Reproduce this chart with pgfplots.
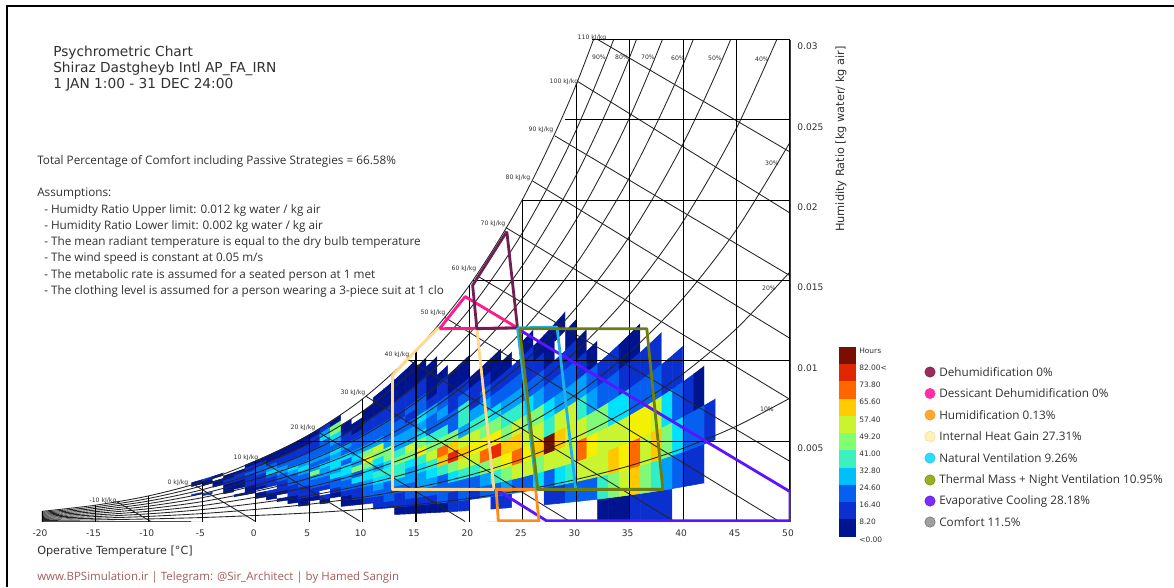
\documentclass[border=0pt]{standalone}
\usepackage{pgfplots}
\usepackage{pgfplotstable}
\usepackage{fontspec}
\pgfplotsset{compat=1.18}
\setmainfont{Open Sans}
\newfontfamily\djv{DejaVu Sans}

% hours per cell: one line per 1 degree column from T=-6 to T=42, 21 humidity bins per column (100/21 % RH each)
\pgfplotstableread[row sep=crcr]{h\\
0\\0\\0\\0\\0\\0\\0\\0\\0\\0\\0\\0\\0\\0\\11\\0\\0\\0\\0\\4\\4\\
0\\0\\0\\0\\0\\0\\0\\0\\0\\0\\0\\0\\0\\11\\0\\0\\0\\0\\4\\4\\11\\
0\\0\\0\\0\\0\\0\\0\\0\\0\\0\\0\\0\\0\\0\\0\\0\\4\\4\\4\\0\\4\\
0\\0\\0\\0\\0\\0\\0\\0\\0\\0\\0\\0\\4\\4\\4\\4\\11\\11\\4\\4\\0\\
0\\0\\0\\0\\0\\0\\0\\0\\0\\0\\4\\0\\0\\4\\4\\4\\11\\11\\11\\4\\0\\
0\\0\\0\\0\\0\\0\\0\\0\\0\\0\\4\\4\\4\\11\\11\\11\\11\\18\\11\\11\\4\\
0\\0\\0\\0\\0\\0\\0\\0\\4\\4\\0\\4\\11\\11\\11\\11\\18\\18\\18\\11\\4\\
0\\0\\0\\0\\0\\0\\0\\4\\4\\11\\0\\11\\11\\11\\18\\32\\25\\18\\11\\4\\4\\
0\\0\\0\\0\\0\\0\\4\\0\\4\\11\\11\\11\\18\\18\\25\\25\\18\\11\\11\\4\\4\\
0\\0\\0\\0\\0\\4\\4\\11\\11\\11\\18\\18\\18\\25\\32\\18\\18\\11\\11\\4\\4\\
0\\0\\0\\0\\4\\4\\11\\11\\11\\18\\18\\18\\25\\32\\25\\18\\18\\11\\11\\4\\4\\
0\\0\\0\\0\\0\\4\\11\\11\\18\\18\\25\\46\\25\\18\\25\\18\\18\\11\\11\\11\\4\\
0\\0\\0\\0\\4\\11\\0\\11\\18\\18\\25\\25\\32\\18\\25\\18\\18\\18\\32\\25\\11\\
0\\0\\0\\0\\0\\4\\11\\18\\18\\32\\25\\32\\32\\25\\32\\18\\25\\32\\46\\46\\4\\
0\\0\\0\\4\\4\\11\\18\\18\\25\\32\\32\\18\\32\\18\\25\\11\\11\\4\\4\\0\\0\\
0\\0\\0\\4\\11\\11\\18\\32\\18\\46\\25\\32\\25\\18\\18\\11\\4\\4\\0\\0\\0\\
0\\0\\0\\11\\18\\18\\25\\32\\32\\46\\60\\46\\25\\18\\18\\11\\11\\4\\4\\0\\0\\
0\\0\\11\\11\\18\\25\\32\\39\\25\\32\\46\\53\\25\\18\\18\\11\\11\\4\\4\\4\\0\\
0\\0\\11\\18\\18\\18\\32\\39\\32\\46\\46\\25\\18\\18\\18\\11\\11\\4\\4\\4\\0\\
0\\4\\11\\11\\18\\25\\39\\39\\46\\39\\25\\25\\18\\18\\11\\11\\11\\4\\4\\4\\0\\
0\\4\\11\\18\\18\\25\\25\\32\\46\\53\\25\\25\\18\\11\\18\\11\\11\\4\\4\\4\\0\\
0\\4\\11\\18\\25\\25\\32\\39\\60\\46\\32\\25\\32\\18\\18\\11\\11\\4\\4\\0\\0\\
0\\4\\11\\18\\25\\32\\39\\53\\46\\39\\18\\18\\25\\11\\4\\4\\4\\4\\0\\0\\0\\
0\\4\\18\\18\\18\\39\\67\\74\\46\\39\\18\\25\\18\\11\\11\\4\\0\\0\\0\\0\\0\\
0\\11\\11\\18\\32\\46\\81\\67\\46\\18\\18\\11\\11\\4\\4\\0\\0\\0\\0\\0\\0\\
0\\11\\18\\18\\39\\53\\67\\53\\25\\39\\39\\18\\11\\4\\4\\0\\0\\0\\0\\0\\0\\
0\\0\\11\\18\\39\\53\\60\\53\\39\\25\\11\\11\\4\\0\\0\\0\\0\\0\\0\\0\\0\\
0\\0\\18\\25\\46\\74\\60\\46\\39\\25\\18\\11\\4\\0\\0\\0\\0\\0\\0\\0\\0\\
0\\11\\18\\39\\53\\81\\60\\46\\32\\18\\11\\4\\4\\0\\0\\0\\0\\0\\0\\0\\0\\
0\\11\\25\\46\\60\\67\\46\\39\\25\\18\\11\\4\\0\\0\\0\\0\\0\\0\\0\\0\\0\\
0\\0\\18\\53\\74\\67\\53\\39\\25\\18\\11\\0\\0\\0\\0\\0\\0\\0\\0\\0\\0\\
0\\0\\18\\53\\60\\53\\46\\32\\18\\11\\11\\4\\0\\0\\0\\0\\0\\0\\0\\0\\0\\
0\\0\\32\\46\\67\\53\\46\\25\\18\\11\\4\\0\\0\\0\\0\\0\\0\\0\\0\\0\\0\\
0\\11\\18\\53\\88\\39\\32\\18\\11\\4\\4\\0\\0\\0\\0\\0\\0\\0\\0\\0\\0\\
0\\11\\32\\53\\67\\53\\25\\18\\11\\0\\4\\0\\0\\0\\0\\0\\0\\0\\0\\0\\0\\
0\\18\\39\\53\\53\\53\\25\\18\\11\\4\\0\\0\\0\\0\\0\\0\\0\\0\\0\\0\\0\\
0\\18\\53\\74\\53\\39\\25\\11\\4\\0\\0\\0\\0\\0\\0\\0\\0\\0\\0\\0\\0\\
0\\18\\53\\60\\46\\25\\18\\4\\0\\0\\0\\0\\0\\0\\0\\0\\0\\0\\0\\0\\0\\
4\\39\\53\\53\\46\\18\\11\\0\\0\\0\\0\\0\\0\\0\\0\\0\\0\\0\\0\\0\\0\\
4\\46\\67\\53\\32\\18\\11\\0\\0\\0\\0\\0\\0\\0\\0\\0\\0\\0\\0\\0\\0\\
4\\53\\60\\53\\32\\11\\4\\0\\0\\0\\0\\0\\0\\0\\0\\0\\0\\0\\0\\0\\0\\
11\\67\\74\\60\\18\\11\\4\\0\\0\\0\\0\\0\\0\\0\\0\\0\\0\\0\\0\\0\\0\\
11\\46\\53\\60\\18\\11\\0\\0\\0\\0\\0\\0\\0\\0\\0\\0\\0\\0\\0\\0\\0\\
11\\39\\67\\53\\18\\11\\0\\0\\0\\0\\0\\0\\0\\0\\0\\0\\0\\0\\0\\0\\0\\
11\\25\\46\\32\\11\\0\\0\\0\\0\\0\\0\\0\\0\\0\\0\\0\\0\\0\\0\\0\\0\\
0\\18\\32\\18\\11\\0\\0\\0\\0\\0\\0\\0\\0\\0\\0\\0\\0\\0\\0\\0\\0\\
0\\11\\18\\11\\0\\0\\0\\0\\0\\0\\0\\0\\0\\0\\0\\0\\0\\0\\0\\0\\0\\
0\\11\\18\\4\\0\\0\\0\\0\\0\\0\\0\\0\\0\\0\\0\\0\\0\\0\\0\\0\\0\\
0\\0\\11\\0\\0\\0\\0\\0\\0\\0\\0\\0\\0\\0\\0\\0\\0\\0\\0\\0\\0\\
}\heat

% relative humidity curves, humidity ratio in g/kg
\pgfplotstableread{
T r10 r20 r30 r40 r50 r60 r70 r80 r90 r100
-20 .063 .127 .190 .254 .317 .380 .444 .507 .571 .634
-15 .102 .203 .305 .406 .508 .610 .711 .813 .914 1.016
-10 .160 .320 .479 .639 .799 .959 1.119 1.278 1.438 1.598
-5 .248 .495 .743 .990 1.238 1.485 1.733 1.980 2.228 2.475
0 .376 .753 1.13 1.51 1.88 2.26 2.64 3.02 3.39 3.77
5 .536 1.074 1.61 2.15 2.69 3.23 3.77 4.31 4.86 5.40
10 .755 1.51 2.27 3.03 3.79 4.56 5.32 6.09 6.86 7.63
15 1.05 2.10 3.16 4.22 5.28 6.35 7.42 8.49 9.57 10.65
20 1.44 2.88 4.34 5.80 7.26 8.74 10.22 11.70 13.20 14.70
25 1.95 3.91 5.89 7.88 9.88 11.90 13.93 15.97 18.02 20.09
30 2.62 5.26 7.92 10.61 13.31 16.04 18.80 21.57 24.38 27.21
35 3.47 6.99 10.54 14.14 17.77 21.44 25.16 28.91 32.72 36.58
40 4.56 9.20 13.90 18.68 23.52 28.44 33.44 38.51 43.66 48.89
45 5.94 12.01 18.18 24.49 30.91 37.47 44.15 50.98 57.95 65.07
50 7.68 15.54 23.60 31.88 40.37 49.08 58.03 67.22 76.68 86.41
}\rhcurves

\definecolor{grad0}{HTML}{001490}\definecolor{grad1}{HTML}{0A30D0}\definecolor{grad2}{HTML}{0560F0}
\definecolor{grad3}{HTML}{00BFFF}\definecolor{grad4}{HTML}{3DF0C0}\definecolor{grad5}{HTML}{80FF70}
\definecolor{grad6}{HTML}{C8F530}\definecolor{grad7}{HTML}{FFCC00}\definecolor{grad8}{HTML}{FF6600}
\definecolor{grad9}{HTML}{E02800}\definecolor{grad10}{HTML}{7A0F00}
\definecolor{txt}{HTML}{303030}

\pgfplotsset{
  colormap={hoursmap}{rgb255=(255,255,255) rgb255=(0,20,144) rgb255=(10,48,208) rgb255=(5,96,240)
    rgb255=(0,160,255) rgb255=(0,224,255) rgb255=(48,238,200) rgb255=(128,248,120) rgb255=(200,245,48)
    rgb255=(244,240,0) rgb255=(255,200,0) rgb255=(255,106,0) rgb255=(232,40,0) rgb255=(122,15,0)},
  zone/.style={line width=2.1pt,line join=round},
  thin line/.style={black!85,line width=.65pt},
}

\begin{document}
\begin{tikzpicture}
\begin{axis}[
  at={(31.5pt,49.125pt)},anchor=south west,scale only axis,
  width=561pt,height=361.5pt,
  xmin=-20,xmax=50,ymin=0,ymax=0.03,
  axis x line=bottom,axis y line=right,
  axis line style={-,black!70,line width=.6pt},
  xtick={-20,-15,...,50},
  ytick={0.005,0.01,0.015,0.02,0.025,0.03},
  yticklabels={0.005,0.01,0.015,0.02,0.025,0.03},
  scaled y ticks=false,
  major tick length=0pt,
  tick label style={font=\djv\fontsize{6.8}{8}\selectfont,text=txt},
  /pgf/number format/assume math mode=true,
  xticklabel style={yshift=-3pt,xshift=-1.5pt},
  yticklabel style={xshift=2pt,yshift=-5.2pt},
  xlabel={Operative Temperature [°C]},
  xlabel style={font=\djv\fontsize{8.4}{10}\selectfont,text=txt,inner sep=0pt,at={(axis description cs:-0.0067,0)},anchor=west,yshift=-22.3pt},
  ylabel={Humidity Ratio [kg water/ kg air]},
  ylabel style={font=\djv\fontsize{8.5}{10}\selectfont,text=txt,at={(axis description cs:1.0682,0.7936)},anchor=center},
  colormap name=hoursmap,colormap access=piecewise constant,
  point meta min=-6.5,point meta max=91.5,
  declare function={ps(\t)=0.61094*exp(17.625*\t/(\t+243.04));
    wr(\t,\r)=0.622*\r*ps(\t)/(101.325-\r*ps(\t));},
  unbounded coords=jump,
  clip=true,
]
% heat cells
\addplot[matrix plot*,mesh/rows=21,mesh/cols=49,mesh/ordering=y varies,point meta=explicit]
  table[x index=0,y index=0,meta index=0,
    x expr={floor((\coordindex+0.5)/21)-5.5},
    y expr={wr(floor((\coordindex+0.5)/21)-5.5,(mod(\coordindex,21)+0.5)/21)}]{\heat};

% relative humidity curves
\pgfplotsinvokeforeach{10,20,30,40,50,60,70,80,90,100}{
  \addplot[thin line,smooth,tension=0.5] table[x=T,y expr=\thisrow{r#1}/1000]{\rhcurves};
}
% enthalpy lines
\addplot[thin line] coordinates {
  (-13,0.00123)(-9.8,0) (0,nan)
  (-5.8,0.0023)(0,0) (0,nan)
  (0.3,0.00387)(9.8,0) (0,nan)
  (5.65,0.00565)(19.6,0) (0,nan)
  (10.3,0.0078)(29.4,0) (0,nan)
  (14.2,0.0101)(39.2,0) (0,nan)
  (17.7,0.0127)(49,0) (0,nan)
  (20.7,0.0153)(50,0.00374) (0,nan)
  (23.4,0.0183)(50,0.0076) (0,nan)
  (25.9,0.0212)(50,0.0114) (0,nan)
  (28,0.024)(50,0.0153) (0,nan)
  (30.1,0.0274)(50,0.0192) (0,nan)
  (32,0.03)(50,0.023)
};
% dry bulb and humidity grid, cut at the saturation curve
\addplot[black,line width=.85pt] coordinates {
  (-20,0)(-20,0.00063) (0,nan)
  (-15,0)(-15,0.00102) (0,nan)
  (-10,0)(-10,0.0016) (0,nan)
  (-5,0)(-5,0.00248) (0,nan)
  (0,0)(0,0.00377) (0,nan)
  (5,0)(5,0.0054) (0,nan)
  (10,0)(10,0.00763) (0,nan)
  (15,0)(15,0.01065) (0,nan)
  (20,0)(20,0.0147) (0,nan)
  (25,0)(25,0.0201) (0,nan)
  (30,0)(30,0.0272) (0,nan)
  (35,0)(35,0.03) (0,nan)
  (40,0)(40,0.03) (0,nan)
  (45,0)(45,0.03) (0,nan)
  (50,0)(50,0.03)
};
\addplot[black,line width=.85pt] coordinates {
  (3.9,0.005)(50,0.005) (0,nan)
  (14.2,0.01)(50,0.01) (0,nan)
  (20.3,0.015)(50,0.015) (0,nan)
  (25,0.02)(50,0.02) (0,nan)
  (28.9,0.025)(50,0.025) (0,nan)
  (31.5,0.03)(50,0.03)
};
% comfort strategy zones
\addplot[zone,color={rgb,255:red,90;green,20;blue,255}] coordinates {(24.5,0.012)(50,0.00186)(50,0.00005)(27.2,0.00005)(22.5,0.002)};
\addplot[zone,color={rgb,255:red,255;green,140;blue,26}] coordinates {(22.5,0.002)(26.2,0.002)(26.5,0.00005)(22.7,0.00005)(22.5,0.002)};
\addplot[zone,color={rgb,255:red,255;green,217;blue,140}] coordinates {(22.3,0.002)(12.8,0.002)(12.8,0.0091)(15,0.01065)(17,0.012)(20.7,0.012)(22.3,0.002)};
\addplot[zone,color={rgb,255:red,255;green,26;blue,140}] coordinates {(17.2,0.012)(19.6,0.014)(24.5,0.01205)(17.2,0.012)};
\addplot[zone,color={rgb,255:red,111;green,32;blue,80}] coordinates {(23.5,0.01805)(20.3,0.0147)(20.7,0.012)(24.5,0.01205)(23.5,0.01805)};
\addplot[zone,color={rgb,255:red,32;green,176;blue,232}] coordinates {(24.5,0.01205)(28.2,0.0121)(29.95,0.002)(26.3,0.002)(24.5,0.01205)};
\addplot[zone,color={rgb,255:red,110;green,125;blue,16}] coordinates {(24.7,0.012)(36.6,0.012)(38.1,0.002)(26.4,0.002)(24.7,0.012)};
\end{axis}

% page sized axis in image pixels: texts, colour bar and legend
\begin{axis}[
  at={(0,0)},anchor=south west,scale only axis,
  width=880.5pt,height=440.25pt,
  xmin=0,xmax=1174,ymin=0,ymax=587,y dir=reverse,
  hide axis,clip=false,
  nodes={inner sep=0pt,text=txt},
]
% frame
\addplot[black,line width=1.5pt] coordinates {(7,587)(7,6)(1174,6)};
% colour bar
\pgfplotsinvokeforeach{0,...,10}{
  \pgfmathsetmacro\ytop{536.7-(#1+1)*17.25}
  \pgfmathsetmacro\ybot{536.7-#1*17.25}
  \edef\temp{\noexpand\addplot[fill=grad#1,draw=none] coordinates {(839,\ytop)(856,\ytop)(856,\ybot)(839,\ybot)} --cycle;}
  \temp
}
\node[anchor=west,font=\djv\fontsize{5.6}{7}\selectfont] at (axis cs:859,351) {Hours};
\node[anchor=west,font=\djv\fontsize{5.6}{7}\selectfont] at (axis cs:859,368) {82.00<};
\node[anchor=west,font=\djv\fontsize{5.6}{7}\selectfont] at (axis cs:859,385) {73.80};
\node[anchor=west,font=\djv\fontsize{5.6}{7}\selectfont] at (axis cs:859,402) {65.60};
\node[anchor=west,font=\djv\fontsize{5.6}{7}\selectfont] at (axis cs:859,419.5) {57.40};
\node[anchor=west,font=\djv\fontsize{5.6}{7}\selectfont] at (axis cs:859,436.5) {49.20};
\node[anchor=west,font=\djv\fontsize{5.6}{7}\selectfont] at (axis cs:859,453.5) {41.00};
\node[anchor=west,font=\djv\fontsize{5.6}{7}\selectfont] at (axis cs:859,471) {32.80};
\node[anchor=west,font=\djv\fontsize{5.6}{7}\selectfont] at (axis cs:859,488) {24.60};
\node[anchor=west,font=\djv\fontsize{5.6}{7}\selectfont] at (axis cs:859,505) {16.40};
\node[anchor=west,font=\djv\fontsize{5.6}{7}\selectfont] at (axis cs:859,522) {8.20};
\node[anchor=west,font=\djv\fontsize{5.6}{7}\selectfont] at (axis cs:859,540) {<0.00};
% legend
\addplot[only marks,mark=*,mark size=3.9pt,draw={rgb,255:red,125;green,30;blue,75},fill={rgb,255:red,155;green,45;blue,93}] coordinates {(930,372)};
\addplot[only marks,mark=*,mark size=3.9pt,draw={rgb,255:red,255;green,60;blue,170},fill={rgb,255:red,255;green,45;blue,168}] coordinates {(930,393.5)};
\addplot[only marks,mark=*,mark size=3.9pt,draw={rgb,255:red,245;green,150;blue,40},fill={rgb,255:red,255;green,168;blue,45}] coordinates {(930,415)};
\addplot[only marks,mark=*,mark size=3.9pt,draw={rgb,255:red,245;green,215;blue,150},fill={rgb,255:red,255;green,244;blue,184}] coordinates {(930,436.5)};
\addplot[only marks,mark=*,mark size=3.9pt,draw={rgb,255:red,40;green,190;blue,240},fill={rgb,255:red,45;green,220;blue,255}] coordinates {(930,458)};
\addplot[only marks,mark=*,mark size=3.9pt,draw={rgb,255:red,120;green,135;blue,30},fill={rgb,255:red,156;green,175;blue,32}] coordinates {(930,480)};
\addplot[only marks,mark=*,mark size=3.9pt,draw={rgb,255:red,90;green,30;blue,220},fill={rgb,255:red,122;green,45;blue,255}] coordinates {(930,501)};
\addplot[only marks,mark=*,mark size=3.9pt,draw={rgb,255:red,110;green,110;blue,110},fill={rgb,255:red,160;green,160;blue,160}] coordinates {(930,522)};
\node[anchor=west,font=\fontsize{8.8}{10}\selectfont] at (axis cs:939,372) {Dehumidification 0\%};
\node[anchor=west,font=\fontsize{8.8}{10}\selectfont] at (axis cs:939,393.5) {Dessicant Dehumidification 0\%};
\node[anchor=west,font=\fontsize{8.8}{10}\selectfont] at (axis cs:939,415) {Humidification 0.13\%};
\node[anchor=west,font=\fontsize{8.8}{10}\selectfont] at (axis cs:939,436.5) {Internal Heat Gain 27.31\%};
\node[anchor=west,font=\fontsize{8.8}{10}\selectfont] at (axis cs:939,458) {Natural Ventilation 9.26\%};
\node[anchor=west,font=\fontsize{8.8}{10}\selectfont] at (axis cs:939,480) {Thermal Mass + Night Ventilation 10.95\%};
\node[anchor=west,font=\fontsize{8.8}{10}\selectfont] at (axis cs:939,501) {Evaporative Cooling 28.18\%};
\node[anchor=west,font=\fontsize{8.8}{10}\selectfont] at (axis cs:939,522) {Comfort 11.5\%};
% title and notes
\node[anchor=west,font=\djv\fontsize{10.3}{12}\selectfont] at (axis cs:53,53) {Psychrometric Chart};
\node[anchor=west,font=\djv\fontsize{10.3}{12}\selectfont] at (axis cs:53,69) {Shiraz Dastgheyb Intl AP\_FA\_IRN};
\node[anchor=west,font=\djv\fontsize{10.3}{12}\selectfont] at (axis cs:53,85) {1 JAN 1:00 - 31 DEC 24:00};
\node[anchor=west,font=\fontsize{8.8}{10}\selectfont] at (axis cs:37,161.5) {Total Percentage of Comfort including Passive Strategies = 66.58\%};
\node[anchor=west,font=\fontsize{8.8}{10}\selectfont] at (axis cs:37,193.5) {Assumptions:};
\node[anchor=west,font=\fontsize{8.8}{10}\selectfont] at (axis cs:44,210) {- Humidty Ratio Upper limit: 0.012 kg water / kg air};
\node[anchor=west,font=\fontsize{8.8}{10}\selectfont] at (axis cs:44,226.5) {- Humidity Ratio Lower limit: 0.002 kg water / kg air};
\node[anchor=west,font=\fontsize{8.8}{10}\selectfont] at (axis cs:44,242.5) {- The mean radiant temperature is equal to the dry bulb temperature};
\node[anchor=west,font=\fontsize{8.8}{10}\selectfont] at (axis cs:44,258.5) {- The wind speed is constant at 0.05 m/s};
\node[anchor=west,font=\fontsize{8.8}{10}\selectfont] at (axis cs:44,275) {- The metabolic rate is assumed for a seated person at 1 met};
\node[anchor=west,font=\fontsize{8.8}{10}\selectfont] at (axis cs:44,291) {- The clothing level is assumed for a person wearing a 3-piece suit at 1 clo};
\node[anchor=west,font=\fontsize{8.6}{10}\selectfont,text={rgb,255:red,165;green,91;blue,91}] at (axis cs:37,578) {www.BPSimulation.ir | Telegram: @Sir\_Architect | by Hamed Sangin};
% enthalpy and humidity curve labels
\node[font=\djv\fontsize{4.6}{6}\selectfont] at (axis cs:592,38) {110 kJ/kg};
\node[font=\djv\fontsize{4.6}{6}\selectfont] at (axis cs:564,82) {100 kJ/kg};
\node[font=\djv\fontsize{4.6}{6}\selectfont] at (axis cs:541,130) {90 kJ/kg};
\node[font=\djv\fontsize{4.6}{6}\selectfont] at (axis cs:518,178) {80 kJ/kg};
\node[font=\djv\fontsize{4.6}{6}\selectfont] at (axis cs:493,224) {70 kJ/kg};
\node[font=\djv\fontsize{4.6}{6}\selectfont] at (axis cs:464,269) {60 kJ/kg};
\node[font=\djv\fontsize{4.6}{6}\selectfont] at (axis cs:433,313) {50 kJ/kg};
\node[font=\djv\fontsize{4.6}{6}\selectfont] at (axis cs:397,355) {40 kJ/kg};
\node[font=\djv\fontsize{4.6}{6}\selectfont] at (axis cs:353,393) {30 kJ/kg};
\node[font=\djv\fontsize{4.6}{6}\selectfont] at (axis cs:303,428) {20 kJ/kg};
\node[font=\djv\fontsize{4.6}{6}\selectfont] at (axis cs:246,458) {10 kJ/kg};
\node[font=\djv\fontsize{4.6}{6}\selectfont] at (axis cs:178,483) {0 kJ/kg};
\node[font=\djv\fontsize{4.6}{6}\selectfont] at (axis cs:103,501) {-10 kJ/kg};
\node[font=\djv\fontsize{4.6}{6}\selectfont] at (axis cs:599,57) {90\%};
\node[font=\djv\fontsize{4.6}{6}\selectfont] at (axis cs:622,57) {80\%};
\node[font=\djv\fontsize{4.6}{6}\selectfont] at (axis cs:648,57) {70\%};
\node[font=\djv\fontsize{4.6}{6}\selectfont] at (axis cs:678,58) {60\%};
\node[font=\djv\fontsize{4.6}{6}\selectfont] at (axis cs:715,58) {50\%};
\node[font=\djv\fontsize{4.6}{6}\selectfont] at (axis cs:762,59) {40\%};
\node[font=\djv\fontsize{4.6}{6}\selectfont] at (axis cs:772,163) {30\%};
\node[font=\djv\fontsize{4.6}{6}\selectfont] at (axis cs:769,288) {20\%};
\node[font=\djv\fontsize{4.6}{6}\selectfont] at (axis cs:767,409) {10\%};
\end{axis}
\pgfresetboundingbox
\path[use as bounding box] (0,0) rectangle (880.5pt,440.25pt);
\end{tikzpicture}
\end{document}
